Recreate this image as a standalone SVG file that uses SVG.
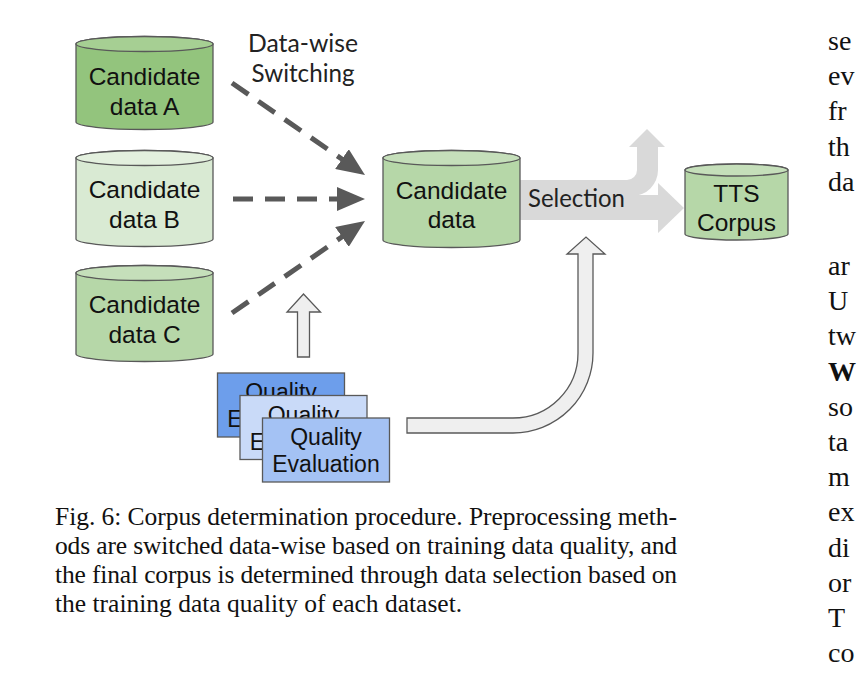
<svg xmlns="http://www.w3.org/2000/svg" width="861" height="673" viewBox="0 0 861 673">
<style>
.cyl{stroke:#595959;stroke-width:1.3}
.lbl{font-family:"Liberation Sans",Arial,sans-serif;font-size:24.5px;fill:#111;text-anchor:middle}
.qe{font-family:"Liberation Sans",Arial,sans-serif;font-size:23px;fill:#111;text-anchor:middle}
.lato{font-family:Lato,"Open Sans",sans-serif;font-size:25px;fill:#222}
.dash{fill:none;stroke:#595959;stroke-width:5;stroke-dasharray:20 12}
.hollow{fill:#efefef;stroke:#595959;stroke-width:1.3}
.box{stroke:#595959;stroke-width:1.3}
.cap{font-family:"Liberation Serif","Times New Roman",serif;font-size:25.5px;fill:#111}
.body{font-family:"Liberation Serif","Times New Roman",serif;font-size:28px;fill:#111}
</style>
<defs>
<marker id="ah" markerUnits="userSpaceOnUse" markerWidth="28" markerHeight="24" refX="2" refY="12" orient="auto">
<path d="M0,0 L28,12 L0,24 Z" fill="#595959"/>
</marker>
</defs>
<rect width="861" height="673" fill="#fff"/>

<g id="connectors">
<path class="dash" d="M232,83 L343.6,160.2" marker-end="url(#ah)"/>
<path class="dash" d="M233,199 L339,199" marker-end="url(#ah)"/>
<path class="dash" d="M232,313 L343.6,235.8" marker-end="url(#ah)"/>
<path class="hollow" d="M297.5,357 V312 H287 L303.5,294 L320.5,312 H309.5 V357 Z"/>
<path class="hollow" d="M407,418 H513 A65,65 0 0 0 578,353 V254 H567 L586,237 L605,254 H593 V353 A80,80 0 0 1 513,433 H407 Z"/>
<g id="selection-arrow" fill="#d9d9d9">
<path d="M520,180 H627 A10,10 0 0 0 637,170 V147 H629 L647,129 L665,147 H658 V170 A26,26 0 0 1 632,196 H520 Z"/>
<path d="M520,195 H658 V183 L684,208 L658,233 V220 H520 Z"/>
</g>
<text class="lato" x="528" y="207" textLength="97" lengthAdjust="spacingAndGlyphs">Selection</text>
<text class="lato" x="248" y="52" textLength="110" lengthAdjust="spacingAndGlyphs">Data-wise</text>
<text class="lato" x="251.5" y="82" textLength="103" lengthAdjust="spacingAndGlyphs">Switching</text>
</g>

<g id="cand-a">
<path class="cyl" fill="#93c47d" d="M76,44 A68.5,7.5 0 0 1 213,44 V122 A68.5,7.5 0 0 1 76,122 Z"/>
<ellipse class="cyl" cx="144.5" cy="44" rx="68.5" ry="7.5" fill="#a6cf93"/>
<text class="lbl" x="144.5" y="85">Candidate</text>
<text class="lbl" x="144.5" y="115">data A</text>
</g>
<g id="cand-b">
<path class="cyl" fill="#d9ead3" d="M76,158 A68.5,7.5 0 0 1 213,158 V239 A68.5,7.5 0 0 1 76,239 Z"/>
<ellipse class="cyl" cx="144.5" cy="158" rx="68.5" ry="7.5" fill="#e3f0de"/>
<text class="lbl" x="144.5" y="198">Candidate</text>
<text class="lbl" x="144.5" y="228">data B</text>
</g>
<g id="cand-c">
<path class="cyl" fill="#b6d7a8" d="M76,273 A68.5,7.5 0 0 1 213,273 V354 A68.5,7.5 0 0 1 76,354 Z"/>
<ellipse class="cyl" cx="144.5" cy="273" rx="68.5" ry="7.5" fill="#c5dfba"/>
<text class="lbl" x="144.5" y="313">Candidate</text>
<text class="lbl" x="144.5" y="343">data C</text>
</g>
<g id="cand-data">
<path class="cyl" fill="#b6d7a8" d="M383,158 A68.5,7.5 0 0 1 520,158 V240 A68.5,7.5 0 0 1 383,240 Z"/>
<ellipse class="cyl" cx="451.5" cy="158" rx="68.5" ry="7.5" fill="#c5dfba"/>
<text class="lbl" x="451.5" y="199">Candidate</text>
<text class="lbl" x="451.5" y="228">data</text>
</g>
<g id="tts">
<path class="cyl" fill="#b6d7a8" d="M685,170 A51.5,6 0 0 1 788,170 V234 A51.5,6 0 0 1 685,234 Z"/>
<ellipse class="cyl" cx="736.5" cy="170" rx="51.5" ry="6" fill="#c5dfba"/>
<text class="lbl" x="736.5" y="202">TTS</text>
<text class="lbl" x="736.5" y="231">Corpus</text>
</g>

<g id="qe1">
<rect class="box" x="217.5" y="373" width="127" height="64" fill="#6d9eeb"/>
<text class="qe" x="281" y="400">Quality</text>
<text class="qe" x="281" y="427">Evaluation</text>
</g>
<g id="qe2">
<rect class="box" x="240" y="395.5" width="127" height="64" fill="#c9daf8"/>
<text class="qe" x="303.5" y="422.5">Quality</text>
<text class="qe" x="303.5" y="449.5">Evaluation</text>
</g>
<g id="qe3">
<rect class="box" x="262.5" y="418" width="127" height="64" fill="#a4c2f4"/>
<text class="qe" x="326" y="445">Quality</text>
<text class="qe" x="326" y="472">Evaluation</text>
</g>

<g id="caption">
<text class="cap" x="55" y="525" textLength="622" lengthAdjust="spacing">Fig. 6: Corpus determination procedure. Preprocessing meth-</text>
<text class="cap" x="55" y="554" textLength="622" lengthAdjust="spacing">ods are switched data-wise based on training data quality, and</text>
<text class="cap" x="55" y="583" textLength="622" lengthAdjust="spacing">the final corpus is determined through data selection based on</text>
<text class="cap" x="55" y="612">the training data quality of each dataset.</text>
</g>

<g id="right-column">
<text class="body" x="828" y="50">se</text>
<text class="body" x="828" y="85.2">ev</text>
<text class="body" x="828" y="120.4">fr</text>
<text class="body" x="828" y="155.6">th</text>
<text class="body" x="828" y="190.8">da</text>
<text class="body" x="828" y="275">ar</text>
<text class="body" x="828" y="310.2">U</text>
<text class="body" x="828" y="345.4">tw</text>
<text class="body" x="828" y="380.6" font-weight="bold">W</text>
<text class="body" x="828" y="415.8">so</text>
<text class="body" x="828" y="451">ta</text>
<text class="body" x="828" y="486.2">m</text>
<text class="body" x="828" y="521.4">ex</text>
<text class="body" x="828" y="556.6">di</text>
<text class="body" x="828" y="591.8">or</text>
<text class="body" x="828" y="627">T</text>
<text class="body" x="828" y="662.2">co</text>
</g>
</svg>
